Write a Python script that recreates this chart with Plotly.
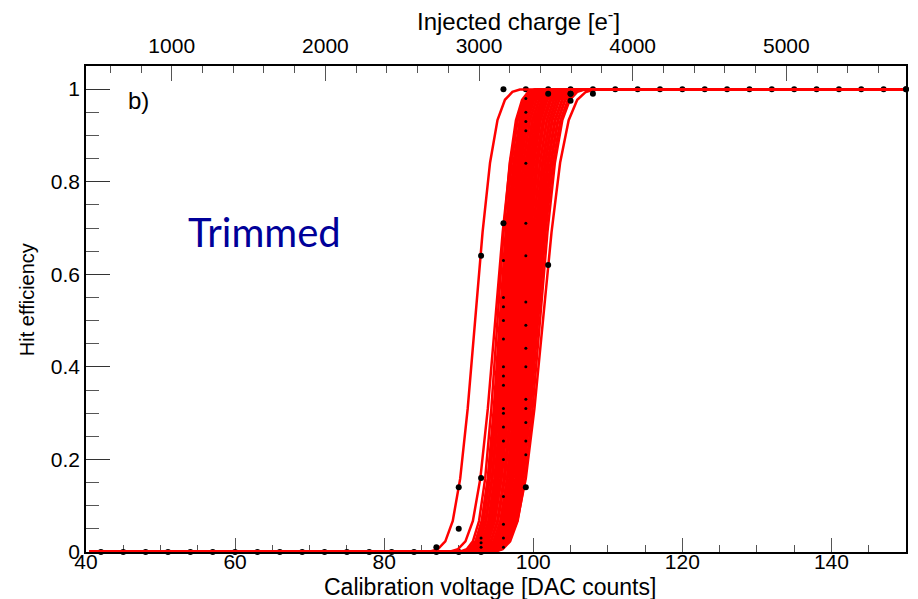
import plotly.graph_objects as go

# ---------------- data ----------------
DAC_RANGE = [40, 150]
CHARGE_RANGE = [442, 5779]          # injected charge at the two ends of the DAC axis
DAC_TICKS = [40, 60, 80, 100, 120, 140]
CHARGE_TICKS = [1000, 2000, 3000, 4000, 5000]
EFF_TICKS = [0, 0.2, 0.4, 0.6, 0.8, 1]
EFF_TICK_LABELS = ["0", "0.2", "0.4", "0.6", "0.8", "1"]

# shape of one fitted S-curve: efficiency at offsets (in units of the noise) from the threshold
PROFILE_Z = [-3.0, -2.5, -2.0, -1.5, -1.0, -0.5, 0.0, 0.5, 1.0, 1.5, 2.0, 2.5, 3.0]
PROFILE_EFF = [0.001, 0.006, 0.023, 0.067, 0.159, 0.309, 0.5, 0.691, 0.841, 0.933, 0.977, 0.994, 0.999]

# thresholds / noise (DAC) of the pixels forming the dense band
BAND_THRESHOLD = [95.5, 95.65, 95.8, 95.9, 96.05, 96.2, 96.3, 96.45, 96.6, 96.7,
                  96.85, 97.0, 97.1, 97.25, 97.4, 97.5, 97.65, 97.8, 97.9, 98.05,
                  98.2, 98.3, 98.45, 98.6, 98.7, 98.85, 99.0, 99.1, 99.25, 99.4,
                  99.5, 99.65, 99.8, 99.9, 100.05, 100.2, 100.35, 100.5, 100.65, 100.9]
BAND_NOISE = [1.6, 1.7, 1.65, 1.75, 1.6, 1.7, 1.8, 1.65, 1.75, 1.7,
              1.8, 1.7, 1.85, 1.75, 1.7, 1.8, 1.9, 1.75, 1.8, 1.85,
              1.7, 1.8, 1.9, 1.8, 1.85, 1.75, 1.9, 1.8, 1.95, 1.85,
              1.8, 1.9, 1.85, 2.0, 1.9, 1.85, 1.95, 1.9, 2.0, 2.0]
# isolated pixels outside the band
OUTLIER_THRESHOLD = [92.2, 94.9, 95.2, 101.3]
OUTLIER_NOISE = [2.0, 2.0, 1.65, 2.3]
CURVE_START = 40.5
CURVE_END = 150

# measured points
ZERO_DOT_DAC = [42, 45, 48, 51, 54, 57, 60, 63, 66, 69, 72, 75, 78, 81, 84, 87, 90, 93]
ONE_DOT_DAC = [96, 99, 102, 105, 108, 111, 114, 117, 120, 123, 126, 129, 132, 135, 138, 141, 144, 147, 150]
OUTER_DOT_DAC = [87, 90, 90, 93, 93, 96, 99, 102, 102, 105, 105, 105, 108]
OUTER_DOT_EFF = [0.01, 0.14, 0.05, 0.64, 0.16, 0.71, 0.14, 0.99, 0.62, 0.99, 0.975, 0.99, 0.99]
INNER_DOT_DAC = [93, 93, 93,
                 96, 96, 96, 96, 96, 96, 96, 96, 96, 96, 96, 96, 96, 96, 96, 96, 96,
                 99, 99, 99, 99, 99, 99, 99, 99, 99, 99, 99, 99, 99, 99, 99, 99]
INNER_DOT_EFF = [0.03, 0.02, 0.01,
                 0.63, 0.55, 0.53, 0.5, 0.46, 0.40, 0.38, 0.36, 0.31, 0.30, 0.27, 0.24, 0.2, 0.12, 0.06, 0.03, 0.01,
                 0.98, 0.95, 0.93, 0.91, 0.84, 0.71, 0.64, 0.54, 0.49, 0.44, 0.40, 0.33, 0.31, 0.28, 0.24, 0.21]

# ---------------- layout constants ----------------
W, H = 918, 599
L, R, T, B = 86, 908, 66, 552
FONT = "Liberation Sans, Arial, sans-serif"


def px(xp):
    return (xp - L) / (R - L)


def py(yp):
    return (B - yp) / (B - T)


def curves(thresholds, noises):
    xs, ys = [], []
    for mu, s in zip(thresholds, noises):
        xs += [CURVE_START] + [mu + z * s for z in PROFILE_Z] + [CURVE_END, None]
        ys += [0] + PROFILE_EFF + [1, None]
    return xs, ys


fig = go.Figure()

# flat measured points (under the fit lines)
fig.add_trace(go.Scatter(x=ZERO_DOT_DAC, y=[0] * len(ZERO_DOT_DAC), mode="markers",
                         marker=dict(color="black", size=6), cliponaxis=False,
                         showlegend=False, hoverinfo="skip"))
fig.add_trace(go.Scatter(x=ONE_DOT_DAC, y=[1] * len(ONE_DOT_DAC), mode="markers",
                         marker=dict(color="black", size=6), cliponaxis=False,
                         showlegend=False, hoverinfo="skip"))

bx, by = curves(OUTLIER_THRESHOLD + BAND_THRESHOLD, OUTLIER_NOISE + BAND_NOISE)
fig.add_trace(go.Scatter(x=bx, y=by, mode="lines", line=dict(color="#ff0000", width=2.5),
                         cliponaxis=False, connectgaps=False, showlegend=False, hoverinfo="skip"))

fig.add_trace(go.Scatter(x=OUTER_DOT_DAC, y=OUTER_DOT_EFF, mode="markers",
                         marker=dict(color="black", size=6), cliponaxis=False,
                         showlegend=False, hoverinfo="skip"))
fig.add_trace(go.Scatter(x=INNER_DOT_DAC, y=INNER_DOT_EFF, mode="markers",
                         marker=dict(color="black", size=3), cliponaxis=False,
                         showlegend=False, hoverinfo="skip"))
fig.add_trace(go.Scatter(x=[CURVE_END], y=[1], mode="markers",
                         marker=dict(color="black", size=6), cliponaxis=False,
                         showlegend=False, hoverinfo="skip"))

# carrier trace for the top charge axis
fig.add_trace(go.Scatter(x=CHARGE_RANGE, y=[0, 0], xaxis="x2", yaxis="y", mode="lines",
                         line=dict(width=0, color="rgba(0,0,0,0)"), showlegend=False,
                         hoverinfo="skip"))

tickfont = dict(family=FONT, size=21, color="black")

fig.update_layout(
    width=W, height=H,
    margin=dict(l=L, r=W - R, t=T, b=H - B, pad=0),
    paper_bgcolor="white", plot_bgcolor="white",
    showlegend=False,
    xaxis=dict(range=DAC_RANGE, tickvals=DAC_TICKS, ticks="inside", ticklen=14,
               tickwidth=1, tickcolor="#555", showline=True, linecolor="black", linewidth=1.5,
               showgrid=False, zeroline=False, tickfont=tickfont, layer="below traces",
               minor=dict(dtick=5, tick0=40, ticks="inside", ticklen=7, tickcolor="#555", tickwidth=1,
                          showgrid=False),
               ticklabelstandoff=-10),
    xaxis2=dict(range=CHARGE_RANGE, overlaying="x", side="top", anchor="y",
                tickvals=CHARGE_TICKS, ticks="inside", ticklen=15, tickwidth=1, tickcolor="#555",
                showline=True, linecolor="black", linewidth=1.5, showgrid=False, zeroline=False,
                tickfont=tickfont,
                minor=dict(dtick=200, tick0=0, ticks="inside", ticklen=7, tickcolor="#555", tickwidth=1,
                           showgrid=False),
                ticklabelstandoff=3),
    yaxis=dict(range=[0, 1.05], tickvals=EFF_TICKS, ticktext=EFF_TICK_LABELS, ticks="inside",
               ticklen=24, tickwidth=1, tickcolor="#333", showline=True, linecolor="black",
               linewidth=1.5, mirror=True, showgrid=False, zeroline=False, tickfont=tickfont,
               minor=dict(dtick=0.05, tick0=0, ticks="inside", ticklen=13, tickcolor="#555", tickwidth=1,
                          showgrid=False),
               ticklabelstandoff=0),
)

ann = [
    dict(text="Calibration voltage [DAC counts]", x=px(491), y=py(587), size=23),
    dict(text="Injected charge [e<sup>-</sup>]", x=px(520), y=py(20), size=24),
]
for a in ann:
    fig.add_annotation(text=a["text"], x=a["x"], y=a["y"], xref="paper", yref="paper",
                       xanchor="center", yanchor="middle", showarrow=False,
                       font=dict(family=FONT, size=a["size"], color="black"))
fig.add_annotation(text="Hit efficiency", x=px(27), y=py(300), xref="paper", yref="paper",
                   xanchor="center", yanchor="middle", textangle=-90, showarrow=False,
                   font=dict(family=FONT, size=20, color="black"))
fig.add_annotation(text="b)", x=px(126), y=py(100), xref="paper", yref="paper",
                   xanchor="left", yanchor="middle", showarrow=False,
                   font=dict(family=FONT, size=24, color="black"))
fig.add_annotation(text="Trimmed", x=px(186), y=py(232), xref="paper", yref="paper",
                   xanchor="left", yanchor="middle", showarrow=False,
                   font=dict(family="Comic Sans MS, Lato, sans-serif", size=40, color="#000099"))

fig.write_html("out.html")
